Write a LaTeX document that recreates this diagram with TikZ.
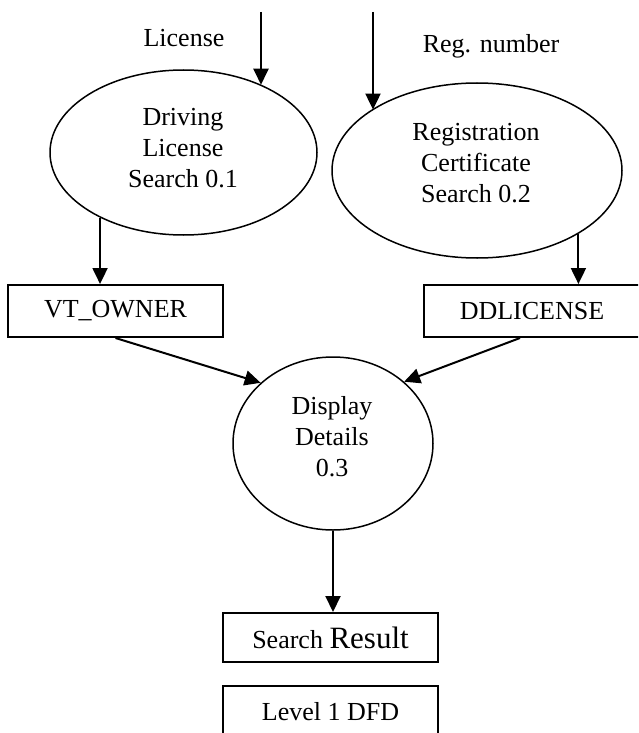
\documentclass[tikz,border=0pt]{standalone}
\usepackage{fontspec}
\setmainfont{Liberation Serif}
\usetikzlibrary{arrows.meta,shapes.geometric}
\begin{document}
\begin{tikzpicture}[x=1pt,y=-1pt,
  flow/.style={line width=2pt,-{Triangle[length=16pt,width=15pt]}},
  proc/.style={ellipse, draw, line width=1.5pt, inner sep=0pt},
  store/.style={rectangle, draw, line width=2pt, inner sep=0pt, font=\fontsize{26}{31}\selectfont},
  lbl/.style={font=\fontsize{26}{31}\selectfont, align=center, inner sep=0pt}]
\useasboundingbox (0,0) rectangle (638,733);
\clip (0,0) rectangle (638,733);

% processes
\node[proc, minimum width=267pt, minimum height=165pt] (p1) at (183.5,152.5) {};
\node[lbl] (t1) at (183,148.5) {Driving\\License\\Search 0.1};
\node[proc, minimum width=290pt, minimum height=175pt] (p2) at (477,170.5) {};
\node[lbl] (t2) at (476,163) {Registration\\Certificate\\Search 0.2};
\node[proc, minimum width=200pt, minimum height=173pt] (p3) at (333,443.5) {};
\node[lbl] (t3) at (332,437) {Display\\Details\\0.3};

% stores
\node[store, minimum width=215pt, minimum height=52pt] (vt) at (115.5,311) {VT\_OWNER};
\node[store, minimum width=216pt, minimum height=52pt] (dd) at (532,311) {DDLICENSE};
\node[store, minimum width=215pt, minimum height=49pt] (sr) at (330.5,637.5) {Search {\fontsize{31}{31}\selectfont Result}};
\node[store, minimum width=215pt, minimum height=52pt] (lv) at (330.5,712) {Level 1 DFD};

% input labels
\node[lbl, anchor=base] (l1) at (184,47) {License};
\node[lbl, anchor=base] (l2) at (491,53) {Reg. number};

% input flows
\coordinate (s1) at (261,12);
\coordinate (s2) at (373,12);
\draw[flow] (s1) -- (s1 |- p1.41);
\draw[flow] (s2) -- (s2 |- p2.150);

% flows to stores
\draw[flow] (p1.218) -- (p1.218 |- vt.north);
\draw[flow] (p2.328) -- (p2.328 |- dd.north);

% flows to display
\draw[flow] (vt.south) -- (p3.140);
\draw[flow] ([xshift=-12pt]dd.south) -- (p3.41);

% result
\draw[flow] (p3.south) -- (p3.south |- sr.north);
\end{tikzpicture}
\end{document}
